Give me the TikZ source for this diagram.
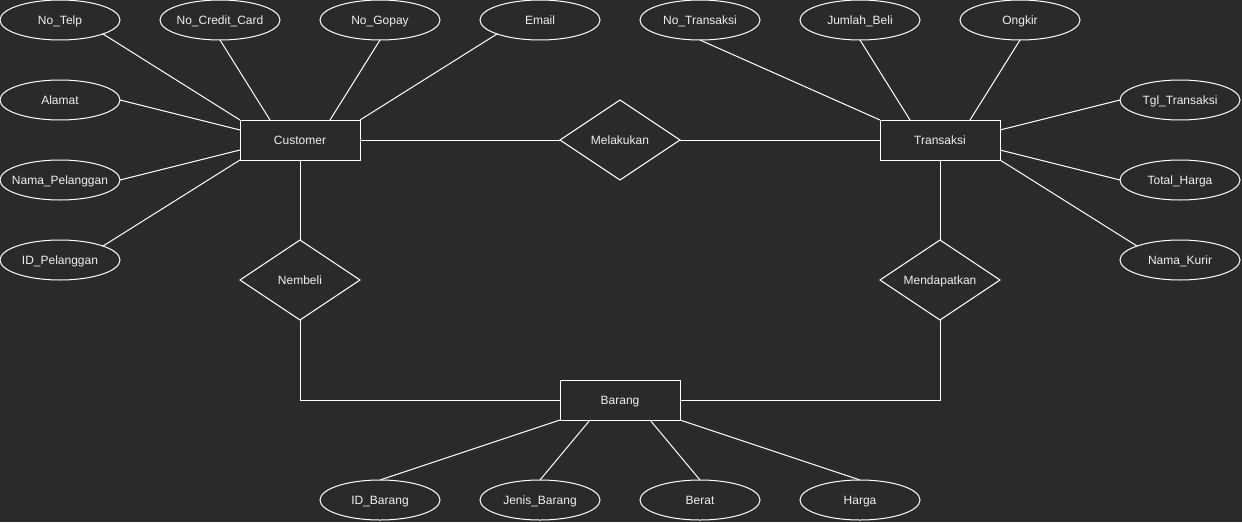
\documentclass[tikz,border=0pt]{standalone}
\usepackage{fontspec}
\setmainfont{Liberation Sans}
\usetikzlibrary{calc}
\usetikzlibrary{shapes.geometric}

\definecolor{bgdark}{HTML}{2A2A2A}
\definecolor{inktext}{HTML}{F0F0F0}

\newcommand{\attrtext}[1]{\makebox[60pt]{#1}}

\begin{document}
\begin{tikzpicture}[%
  x=1pt, y=-1pt,
  every node/.style={text=inktext, font=\fontsize{12}{14}\selectfont, inner sep=0pt, outer sep=0pt,
    text height=11pt, text depth=2pt},
  attr/.style={ellipse, draw=white, line width=1pt, minimum width=120pt, minimum height=40pt},
  entity/.style={rectangle, draw=white, line width=1pt, minimum width=120pt, minimum height=40pt},
  rel/.style={diamond, draw=white, line width=1pt, aspect=1.5, minimum width=120pt, minimum height=80pt},
  link/.style={draw=white, line width=1pt}
]

  \fill[bgdark] (0,0) rectangle (1242,522);
  \useasboundingbox (0,0) rectangle (1242,522);

  % entities and relations
  \node[entity] (customer) at (300,140) {Customer};
  \node[entity] (transaksi) at (940,140) {Transaksi};
  \node[entity] (barang) at (620,400) {Barang};

  \node[rel] (melakukan) at (620,140) {Melakukan};
  \node[rel] (nembeli) at (300,280) {Nembeli};
  \node[rel] (mendapatkan) at (940,280) {Mendapatkan};

  % customer attributes
  \node[attr] (telp) at (60,20) {\attrtext{No\_Telp}};
  \node[attr] (credit) at (220,20) {\attrtext{No\_Credit\_Card}};
  \node[attr] (gopay) at (380,20) {\attrtext{No\_Gopay}};
  \node[attr] (email) at (540,20) {\attrtext{Email}};
  \node[attr] (alamat) at (60,100) {\attrtext{Alamat}};
  \node[attr] (nama) at (60,180) {\attrtext{Nama\_Pelanggan}};
  \node[attr] (idpel) at (60,260) {\attrtext{ID\_Pelanggan}};

  % transaksi attributes
  \node[attr] (notrans) at (700,20) {\attrtext{No\_Transaksi}};
  \node[attr] (jumlah) at (860,20) {\attrtext{Jumlah\_Beli}};
  \node[attr] (ongkir) at (1020,20) {\attrtext{Ongkir}};
  \node[attr] (tgl) at (1180,100) {\attrtext{Tgl\_Transaksi}};
  \node[attr] (total) at (1180,180) {\attrtext{Total\_Harga}};
  \node[attr] (kurir) at (1180,260) {\attrtext{Nama\_Kurir}};

  % barang attributes
  \node[attr] (idbrg) at (380,500) {\attrtext{ID\_Barang}};
  \node[attr] (jenis) at (540,500) {\attrtext{Jenis\_Barang}};
  \node[attr] (berat) at (700,500) {\attrtext{Berat}};
  \node[attr] (harga) at (860,500) {\attrtext{Harga}};

  \draw[link] (telp.-18) -- (customer.north west);
  \draw[link] (credit.south) -- ($(customer.north west)!0.25!(customer.north east)$);
  \draw[link] (gopay.south) -- ($(customer.north west)!0.75!(customer.north east)$);
  \draw[link] (email.-162) -- (customer.north east);
  \draw[link] (alamat.east) -- ($(customer.north west)!0.25!(customer.south west)$);
  \draw[link] (nama.east) -- ($(customer.north west)!0.75!(customer.south west)$);
  \draw[link] (idpel.18) -- (customer.south west);

  \draw[link] (notrans.south) -- (transaksi.north west);
  \draw[link] (jumlah.south) -- ($(transaksi.north west)!0.25!(transaksi.north east)$);
  \draw[link] (ongkir.south) -- ($(transaksi.north west)!0.75!(transaksi.north east)$);
  \draw[link] (tgl.west) -- ($(transaksi.north east)!0.25!(transaksi.south east)$);
  \draw[link] (total.west) -- ($(transaksi.north east)!0.75!(transaksi.south east)$);
  \draw[link] (kurir.162) -- (transaksi.south east);

  \draw[link] (idbrg.north) -- (barang.south west);
  \draw[link] (jenis.north) -- ($(barang.south west)!0.25!(barang.south east)$);
  \draw[link] (berat.north) -- ($(barang.south west)!0.75!(barang.south east)$);
  \draw[link] (harga.north) -- (barang.south east);

  \draw[link] (customer.east) -- (melakukan.west);
  \draw[link] (melakukan.east) -- (transaksi.west);
  \draw[link] (customer.south) -- (nembeli.north);
  \draw[link] (nembeli.south) |- (barang.west);
  \draw[link] (transaksi.south) -- (mendapatkan.north);
  \draw[link] (mendapatkan.south) |- (barang.east);

\end{tikzpicture}
\end{document}
